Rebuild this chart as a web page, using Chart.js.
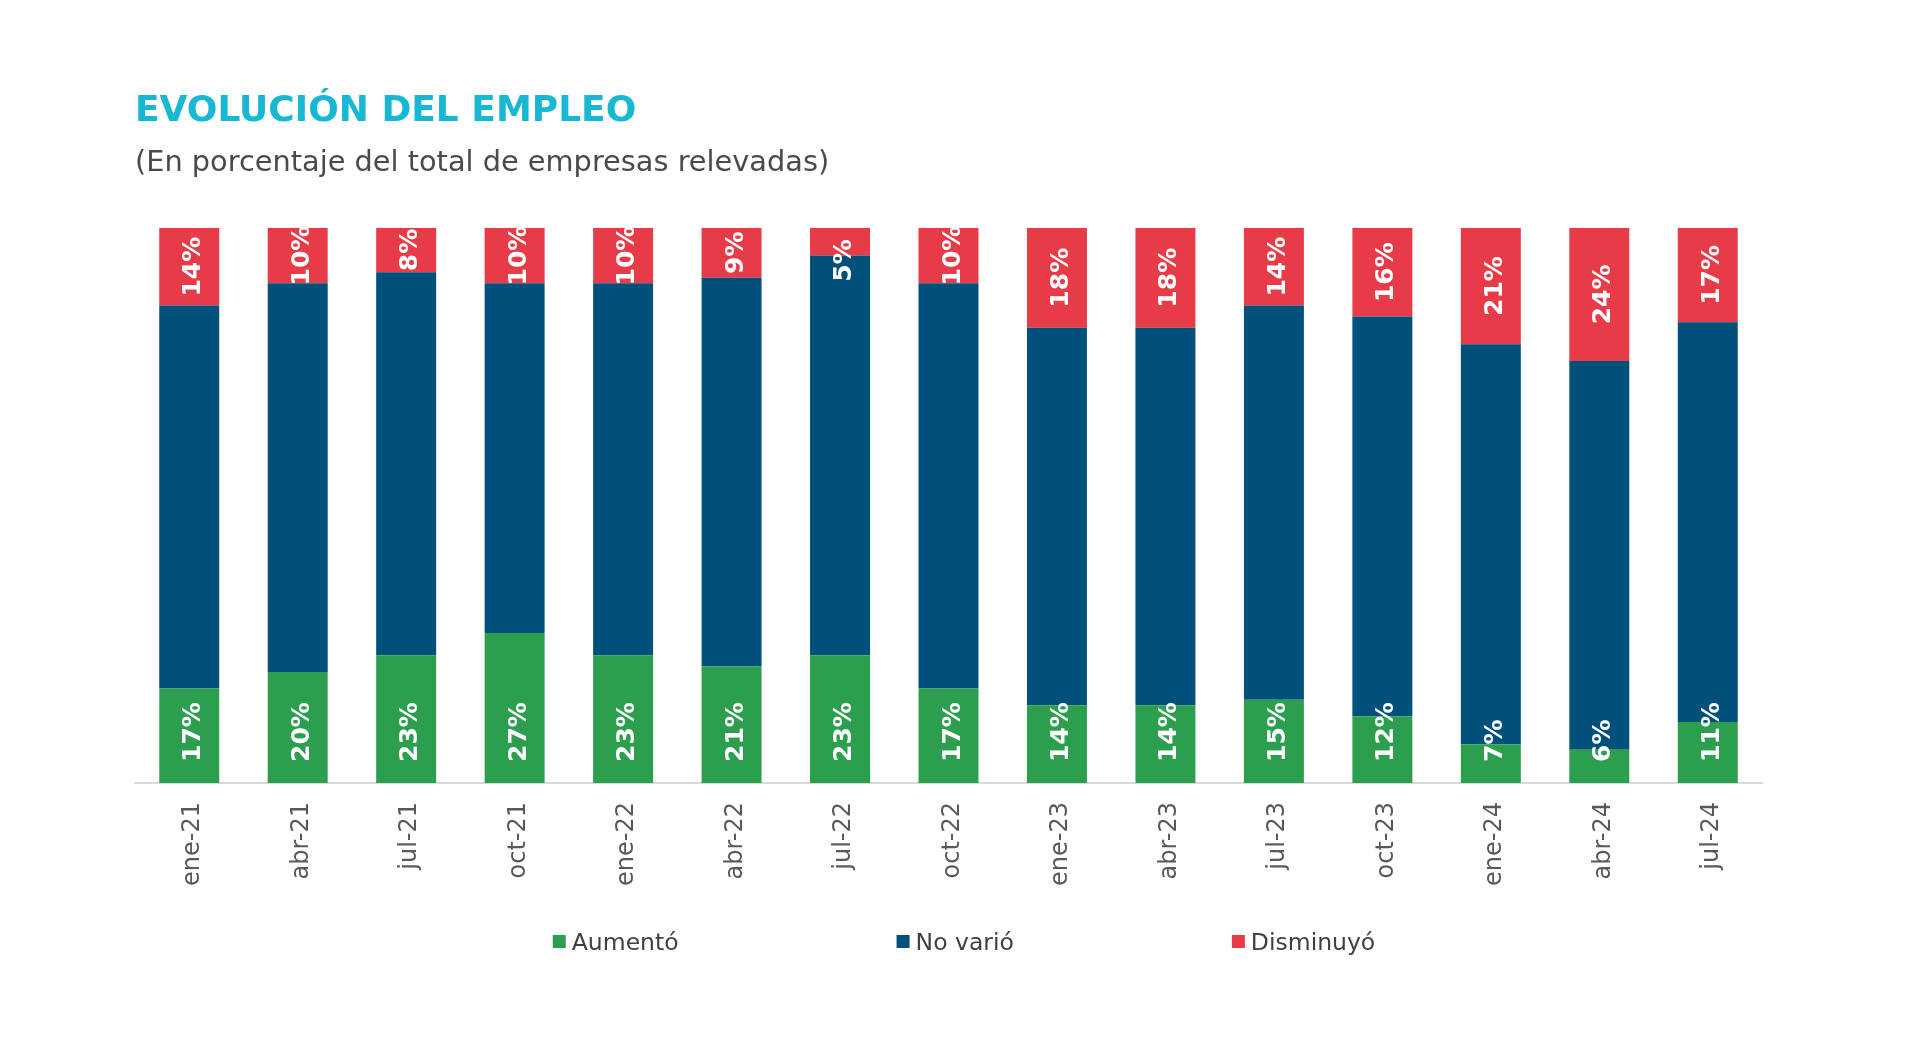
<!DOCTYPE html>
<html>
<head>
<meta charset="utf-8">
<script src="https://cdn.jsdelivr.net/npm/chart.js@4.4.1/dist/chart.umd.min.js"></script>
<style>
html,body{margin:0;padding:0;background:#ffffff;}
#wrap{width:1920px;height:1040px;position:relative;background:#ffffff;}
</style>
</head>
<body>
<div id="wrap"><canvas id="c" width="1920" height="1040"></canvas></div>
<script>
// ---- Data ----
const categories = ['ene-21','abr-21','jul-21','oct-21','ene-22','abr-22','jul-22','oct-22','ene-23','abr-23','jul-23','oct-23','ene-24','abr-24','jul-24'];
const aumento   = [17, 20, 23, 27, 23, 21, 23, 17, 14, 14, 15, 12,  7,  6, 11];
const noVario   = [69, 70, 69, 63, 67, 70, 72, 73, 68, 68, 71, 72, 72, 70, 72];
const disminuyo = [14, 10,  8, 10, 10,  9,  5, 10, 18, 18, 14, 16, 21, 24, 17];
const seriesNames = ['Aumentó', 'No varió', 'Disminuyó'];
const titleText = 'EVOLUCIÓN DEL EMPLEO';
const subtitleText = '(En porcentaje del total de empresas relevadas)';

// ---- Styles ----
const COLORS = ['#2c9f4f', '#00507c', '#e73c48'];
const FONT = '"DejaVu Sans", Verdana, sans-serif';

// Data labels drawn with the bar elements' own positions
const valueLabels = {
  id: 'valueLabels',
  afterDatasetsDraw(chart) {
    const ctx = chart.ctx;
    ctx.save();
    ctx.font = 'bold 25px ' + FONT;
    ctx.fillStyle = '#ffffff';
    ctx.textBaseline = 'alphabetic';
    [0, 2].forEach(di => {
      const meta = chart.getDatasetMeta(di);
      const vals = chart.data.datasets[di].data;
      meta.data.forEach((bar, i) => {
        const txt = vals[i] + '%';
        const w = ctx.measureText(txt).width;
        const top = Math.min(bar.y, bar.base);
        const bottom = Math.max(bar.y, bar.base);
        ctx.save();
        if (di === 0) {
          ctx.translate(bar.x + 11, chart.chartArea.bottom - 21);
          ctx.rotate(-Math.PI / 2);
          ctx.textAlign = 'left';
          ctx.fillText(txt, 0, 0);
        } else {
          let cy = (top + bottom) / 2;
          if (bottom - top < w * 0.75) cy = bottom + 5;
          ctx.translate(bar.x + 11, cy);
          ctx.rotate(-Math.PI / 2);
          ctx.textAlign = 'center';
          ctx.fillText(txt, 0, 0);
        }
        ctx.restore();
      });
    });
    ctx.restore();
  }
};

// Legend laid out like the original (equal gaps between entries)
const customLegend = {
  id: 'customLegend',
  afterDraw(chart) {
    const ctx = chart.ctx;
    ctx.save();
    ctx.font = '23.5px ' + FONT;
    const items = chart.data.datasets.map(d => ({
      text: d.label, color: d.backgroundColor, w: ctx.measureText(d.label).width
    }));
    const box = 13, gap = 6, spacing = 218;
    const total = items.reduce((s, it) => s + box + gap + it.w, 0) + spacing * (items.length - 1);
    let x = chart.width / 2 + 4 - total / 2;
    const y = chart.chartArea.bottom + 159;
    ctx.textBaseline = 'middle';
    ctx.textAlign = 'left';
    items.forEach(it => {
      ctx.fillStyle = it.color;
      ctx.fillRect(x, y - 7, box, box);
      ctx.fillStyle = '#404040';
      ctx.fillText(it.text, x + box + gap, y + 1.5);
      x += box + gap + it.w + spacing;
    });
    ctx.restore();
  }
};

const chart = new Chart(document.getElementById('c'), {
  type: 'bar',
  data: {
    labels: categories,
    datasets: [
      { label: seriesNames[0], data: aumento,   backgroundColor: COLORS[0], borderWidth: 0 },
      { label: seriesNames[1], data: noVario,   backgroundColor: COLORS[1], borderWidth: 0 },
      { label: seriesNames[2], data: disminuyo, backgroundColor: COLORS[2], borderWidth: 0 }
    ]
  },
  options: {
    responsive: false,
    animation: false,
    devicePixelRatio: 1,
    barPercentage: 0.553,
    categoryPercentage: 1,
    layout: { padding: { top: 0, left: 135, right: 158, bottom: 137 } },
    scales: {
      x: {
        stacked: true,
        grid: { display: false, drawTicks: false },
        border: { display: true, color: '#d9d9d9', width: 2 },
        ticks: {
          color: '#595959',
          font: { family: FONT, size: 24 },
          minRotation: 90,
          maxRotation: 90,
          padding: 19,
          labelOffset: 4,
          autoSkip: false
        },
        afterFit(scale) { scale.height = 120; }
      },
      y: {
        stacked: true,
        display: false,
        min: 0,
        max: 100
      }
    },
    plugins: {
      legend: { display: false },
      tooltip: { enabled: false },
      title: {
        display: true,
        text: titleText,
        align: 'start',
        color: '#16b8d3',
        font: { family: FONT, size: 36, weight: 'bold', lineHeight: 1.2 },
        padding: { top: 90, bottom: 13 }
      },
      subtitle: {
        display: true,
        text: subtitleText,
        align: 'start',
        color: '#4a4a4a',
        font: { family: FONT, size: 28.8, weight: 'normal', lineHeight: 1.2 },
        padding: { top: 0, bottom: 47 }
      }
    }
  },
  plugins: [valueLabels, customLegend]
});
</script>
</body>
</html>
